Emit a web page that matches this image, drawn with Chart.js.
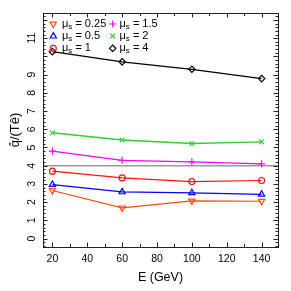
<!DOCTYPE html>
<html><head><meta charset="utf-8">
<script src="https://cdn.jsdelivr.net/npm/chart.js@4.4.1/dist/chart.umd.min.js"></script>
<style>html,body{margin:0;padding:0;background:#fff;overflow:hidden}#wrap{width:291px;height:291px;position:relative}</style>
</head><body><div id="wrap"><canvas id="c"></canvas></div>
<script>
// ---- data ----
const energies = [20, 60, 100, 140];
const mu025 = [2.64, 1.69, 2.07, 2.05];
const mu05  = [2.96, 2.56, 2.51, 2.43];
const mu1   = [3.70, 3.33, 3.13, 3.19];
const mu15  = [4.80, 4.29, 4.21, 4.10];
const mu2   = [5.81, 5.41, 5.22, 5.31];
const mu4   = [10.26, 9.70, 9.29, 8.78];
const seriesLabels = ['0.25', '0.5', '1', '1.5', '2', '4'];
const xTickValues = [20, 40, 60, 80, 100, 120, 140];
const xTickLabels = ['20', '40', '60', '80', '100', '120', '140'];
const yTickValues = [0, 1, 2, 3, 4, 5, 6, 7, 8, 9, 10, 11];
const yTickLabels = ['0', '1', '2', '3', '4', '5', '6', '7', '8', '9', '', '11'];
const refLineValue = 4;
const xTitle = 'E (GeV)';
const yTitle = 'q\u0302/(T\u00EA)';

const FONT = "'Liberation Sans', Arial, Helvetica, sans-serif";
const styles = [
  {color: '#FF4A10', pointStyle: 'triangle', rotation: 180, radius: 3.6},
  {color: '#0000FF', pointStyle: 'triangle', rotation: 0, radius: 3.6},
  {color: '#FF1010', pointStyle: 'circle', rotation: 0, radius: 3},
  {color: '#FF00FF', pointStyle: 'cross', rotation: 0, radius: 3.6},
  {color: '#2ED02E', pointStyle: 'crossRot', rotation: 0, radius: 3.4},
  {color: '#000000', pointStyle: 'rectRot', rotation: 0, radius: 3.2}
];
const allSeries = [mu025, mu05, mu1, mu15, mu2, mu4];

const datasets = allSeries.map((vals, i) => ({
  label: '\u03BCs = ' + seriesLabels[i],
  data: energies.map((e, j) => ({x: e, y: vals[j]})),
  borderColor: styles[i].color,
  backgroundColor: 'rgba(0,0,0,0)',
  pointBorderColor: styles[i].color,
  pointBackgroundColor: 'rgba(0,0,0,0)',
  pointStyle: styles[i].pointStyle,
  pointRotation: styles[i].rotation,
  pointRadius: styles[i].radius,
  pointBorderWidth: 1.2,
  borderWidth: i === 4 ? 1.4 : 1.2,
  showLine: true,
  tension: 0,
  clip: false
}));

function drawMarker(ctx, st, x, y) {
  ctx.save();
  ctx.strokeStyle = st.color;
  ctx.fillStyle = 'rgba(0,0,0,0)';
  ctx.lineWidth = 1.2;
  if (Chart.helpers && Chart.helpers.drawPoint) {
    Chart.helpers.drawPoint(ctx, {pointStyle: st.pointStyle, rotation: st.rotation, radius: st.radius, borderWidth: 1.2}, x, y);
  }
  ctx.restore();
}

const framePlugin = {
  id: 'frame',
  beforeDatasetsDraw(chart) {
    const {ctx, chartArea: a, scales: {y}} = chart;
    const py = y.getPixelForValue(refLineValue);
    ctx.save();
    ctx.strokeStyle = '#9a9a9a';
    ctx.lineWidth = 1.5;
    ctx.beginPath(); ctx.moveTo(a.left, py); ctx.lineTo(a.right, py); ctx.stroke();
    ctx.restore();
  },
  afterDraw(chart) {
    const {ctx, chartArea: a, scales: {x, y}} = chart;
    ctx.save();
    ctx.strokeStyle = '#222';
    ctx.lineWidth = 1;
    // box
    ctx.strokeRect(Math.round(a.left) + 0.5, Math.round(a.top) + 0.5, Math.round(a.right - a.left), Math.round(a.bottom - a.top));
    ctx.beginPath();
    // x ticks (bottom & top, inward)
    for (let v = 10; v <= 150; v += 10) {
      if (v < x.min || v > x.max) continue;
      const px = Math.round(x.getPixelForValue(v)) + 0.5;
      const len = (v % 20 === 0) ? 4.5 : 3;
      ctx.moveTo(px, a.bottom); ctx.lineTo(px, a.bottom - len);
      ctx.moveTo(px, a.top); ctx.lineTo(px, a.top + len);
    }
    // y ticks (left & right, inward), minor every 0.2
    for (let k = -5; k <= 70; k++) {
      const v = k * 0.2;
      if (v < y.min || v > y.max) continue;
      const py = Math.round(y.getPixelForValue(v)) + 0.5;
      const len = (k % 5 === 0) ? 4.5 : 2.5;
      ctx.moveTo(a.left, py); ctx.lineTo(a.left + len, py);
      ctx.moveTo(a.right, py); ctx.lineTo(a.right - len, py);
    }
    ctx.stroke();

    // tick labels
    ctx.fillStyle = '#000';
    ctx.font = '10.5px ' + FONT;
    ctx.textAlign = 'center';
    ctx.textBaseline = 'middle';
    xTickValues.forEach((v, i) => {
      ctx.fillText(xTickLabels[i], x.getPixelForValue(v), 259.5);
    });
    yTickValues.forEach((v, i) => {
      if (!yTickLabels[i]) return;
      ctx.save();
      ctx.translate(32, y.getPixelForValue(v));
      ctx.rotate(-Math.PI / 2);
      ctx.fillText(yTickLabels[i], 0, 0);
      ctx.restore();
    });
    // titles
    ctx.font = '12.5px ' + FONT;
    ctx.fillText(xTitle, (a.left + a.right) / 2, 278);
    ctx.save();
    ctx.translate(15, (a.top + a.bottom) / 2);
    ctx.rotate(-Math.PI / 2);
    ctx.font = '13px ' + FONT;
    ctx.fillText(yTitle, 0, 0);
    ctx.restore();

    // legend (two columns, column-major)
    const colMarkerX = [53.3, 112.7];
    const colTextX = [62, 119.5];
    const rowY = [24, 36.2, 48.3];
    seriesLabels.forEach((lab, i) => {
      const col = Math.floor(i / 3), row = i % 3;
      drawMarker(ctx, styles[i], colMarkerX[col], rowY[row]);
      let tx = colTextX[col];
      const ty = rowY[row];
      ctx.fillStyle = '#000';
      ctx.textAlign = 'left';
      ctx.textBaseline = 'middle';
      ctx.font = '11px ' + FONT;
      ctx.fillText('\u03BC', tx, ty);
      tx += ctx.measureText('\u03BC').width;
      ctx.font = '8px ' + FONT;
      ctx.fillText('s', tx, ty + 2.5);
      tx += ctx.measureText('s').width;
      ctx.font = '11px ' + FONT;
      ctx.fillText(' = ' + lab, tx, ty);
    });
    ctx.restore();
  }
};

new Chart(document.getElementById('c'), {
  type: 'scatter',
  data: {datasets},
  options: {
    responsive: true,
    maintainAspectRatio: false,
    animation: false,
    devicePixelRatio: 1,
    layout: {padding: {left: 43, top: 13, right: 13, bottom: 44}},
    plugins: {legend: {display: false}, tooltip: {enabled: false}},
    scales: {
      x: {type: 'linear', display: false, min: 14.6, max: 149.4},
      y: {type: 'linear', display: false, min: -0.46, max: 12.38}
    }
  },
  plugins: [framePlugin]
});
</script>
</body></html>
